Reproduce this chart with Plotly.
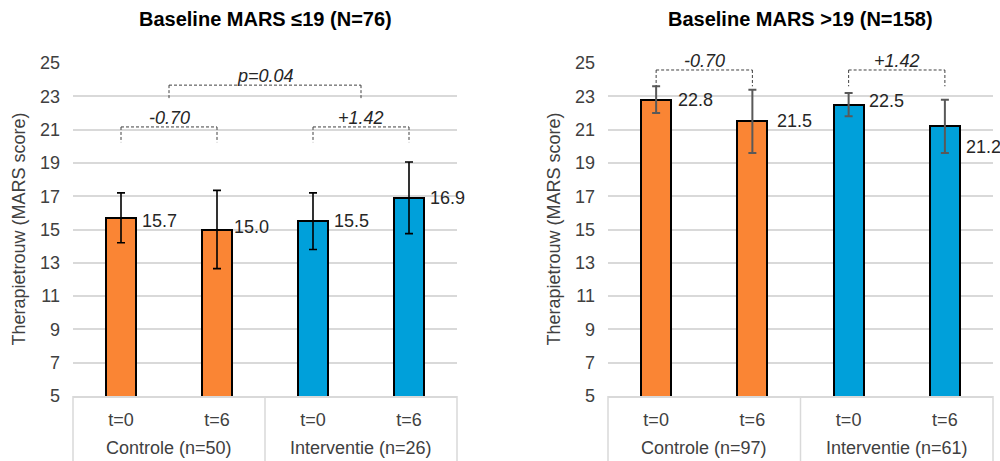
import plotly.graph_objects as go

# ---- data ----
time_labels = ["t=0", "t=6", "t=0", "t=6"]
left_groups = ["Controle (n=50)", "Interventie (n=26)"]
right_groups = ["Controle (n=97)", "Interventie (n=61)"]
left_title = "Baseline MARS ≤19 (N=76)"
right_title = "Baseline MARS >19 (N=158)"
y_title = "Therapietrouw (MARS score)"
left_means = [15.7, 15.0, 15.5, 16.9]
left_err = [1.5, 2.35, 1.7, 2.15]
right_means = [22.8, 21.5, 22.5, 21.2]
right_err = [0.8, 1.9, 0.7, 1.6]
diff_labels = ["-0.70", "+1.42"]
left_p = "p=0.04"
right_p = "p=0.95"
y_ticks = [5, 7, 9, 11, 13, 15, 17, 19, 21, 23, 25]

ORANGE = "#FA8534"
BLUE = "#00A0DA"
colors = [ORANGE, ORANGE, BLUE, BLUE]
FONT = "Liberation Sans, Arial, sans-serif"
GRID = "#D9D9D9"
TXT = "#404040"
FS = 18

fig = go.Figure()
xs = [0, 1, 2, 3]

fig.add_trace(go.Bar(
    x=xs, y=left_means, width=0.3125, marker=dict(color=colors, line=dict(color="black", width=2)),
    error_y=dict(type="data", array=left_err, color="black", thickness=1.6, width=4),
    xaxis="x", yaxis="y", showlegend=False, hoverinfo="y"))
fig.add_trace(go.Bar(
    x=xs, y=right_means, width=0.3125, marker=dict(color=colors, line=dict(color="black", width=2)),
    error_y=dict(type="data", array=right_err, color="#595959", thickness=2, width=4),
    xaxis="x2", yaxis="y2", showlegend=False, hoverinfo="y"))

ydom = [1 - 396 / 461, 1 - 63 / 461]
axis_common = dict(range=[5, 25], tickvals=y_ticks, showgrid=True, gridcolor=GRID, gridwidth=1.5,
                   zeroline=False, showline=False, ticks="", automargin=False, ticklabelstandoff=12,
                   tickfont=dict(size=FS, color=TXT, family=FONT), domain=ydom)
xaxis_common = dict(range=[-0.5, 3.5], tickvals=xs, ticktext=time_labels, showgrid=False, zeroline=False,
                    showline=True, linecolor=GRID, linewidth=1.5, ticks="", automargin=False,
                    ticklabelstandoff=7, tickfont=dict(size=FS, color=TXT, family=FONT))

fig.update_layout(
    width=1000, height=461, margin=dict(l=0, r=0, t=0, b=0),
    paper_bgcolor="white", plot_bgcolor="white", bargap=0,
    xaxis=dict(domain=[73 / 1000, 457 / 1000], anchor="y", **xaxis_common),
    yaxis=dict(anchor="x", **axis_common),
    xaxis2=dict(domain=[608 / 1000, 993 / 1000], anchor="y2", **xaxis_common),
    yaxis2=dict(anchor="x2", **axis_common),
    font=dict(family=FONT),
)

ann = []
shapes = []
axbot = ydom[0]

for xa, ya, title, groups, means, labelshift, ytx in [
    ("x", "y", left_title, left_groups, left_means, [(19, -3), (15, 3), (19, 0), (19, 0)], 18),
    ("x2", "y2", right_title, right_groups, right_means, [(20, 0), (23, 0), (18, 4), (19, -21)], 553),
]:
    # title
    ann.append(dict(text="<b>" + title + "</b>", xref=xa + " domain", yref="paper", x=0.5, y=1 - 19 / 461,
                    showarrow=False, font=dict(size=20, color="black", family=FONT),
                    xanchor="center", yanchor="middle"))
    # y axis title
    ann.append(dict(text=y_title, xref="paper", yref="paper", x=ytx / 1000, y=(ydom[0] + ydom[1]) / 2,
                    textangle=-90, showarrow=False, xanchor="center", yanchor="middle",
                    font=dict(size=FS, color=TXT, family=FONT)))
    # group labels
    for gi, g in enumerate(groups):
        ann.append(dict(text=g, xref=xa, yref="paper", x=0.5 + 2 * gi, y=1 - 448 / 461, showarrow=False,
                        font=dict(size=FS, color=TXT, family=FONT), xanchor="center", yanchor="middle"))
    # category box lines
    for fx in [0, 0.5, 1]:
        shapes.append(dict(type="line", xref=xa + " domain", yref="paper", x0=fx, x1=fx, y0=axbot, y1=-0.05,
                           line=dict(color=GRID, width=1.5)))
    # value labels
    for i, m in enumerate(means):
        dx, dy = labelshift[i]
        ann.append(dict(text=f"{m:.1f}", xref=xa, yref=ya, x=xs[i], y=m, xshift=dx, yshift=dy,
                        showarrow=False, xanchor="left", yanchor="middle",
                        font=dict(size=FS, color="#262626", family=FONT)))


def bracket(xa, ya, x0, x1, ytop, ybot, label):
    dash = dict(color="#404040", width=1, dash="3px,2px")
    shapes.append(dict(type="line", xref=xa, yref=ya, x0=x0, x1=x1, y0=ytop, y1=ytop, line=dash))
    shapes.append(dict(type="line", xref=xa, yref=ya, x0=x0, x1=x0, y0=ytop, y1=ybot, line=dash))
    shapes.append(dict(type="line", xref=xa, yref=ya, x0=x1, x1=x1, y0=ytop, y1=ybot, line=dash))
    if label:
        ann.append(dict(text="<i>" + label + "</i>", xref=xa, yref=ya, x=(x0 + x1) / 2, y=ytop, yshift=-3,
                        showarrow=False, xanchor="center", yanchor="bottom",
                        font=dict(size=FS, color="#262626", family=FONT)))


# left brackets
bracket("x", "y", 0, 1, 21.16, 20.24, diff_labels[0])
bracket("x", "y", 2, 3, 21.16, 20.24, diff_labels[1])
bracket("x", "y", 0.5, 2.5, 23.67, 22.83, left_p)
# right brackets
bracket("x2", "y2", 0, 1, 24.58, 23.6, diff_labels[0])
bracket("x2", "y2", 2, 3, 24.58, 23.6, diff_labels[1])
ann.append(dict(text="<i>" + right_p + "</i>", xref="x2", yref="y2", x=1.5, y=25.55, showarrow=False,
                xanchor="center", yanchor="middle", font=dict(size=FS, color="#262626", family=FONT)))

fig.update_layout(annotations=ann, shapes=shapes)
fig.write_html("out.html", config={"displayModeBar": False},
               post_script="document.body.style.margin='0';document.body.style.overflow='hidden';")
